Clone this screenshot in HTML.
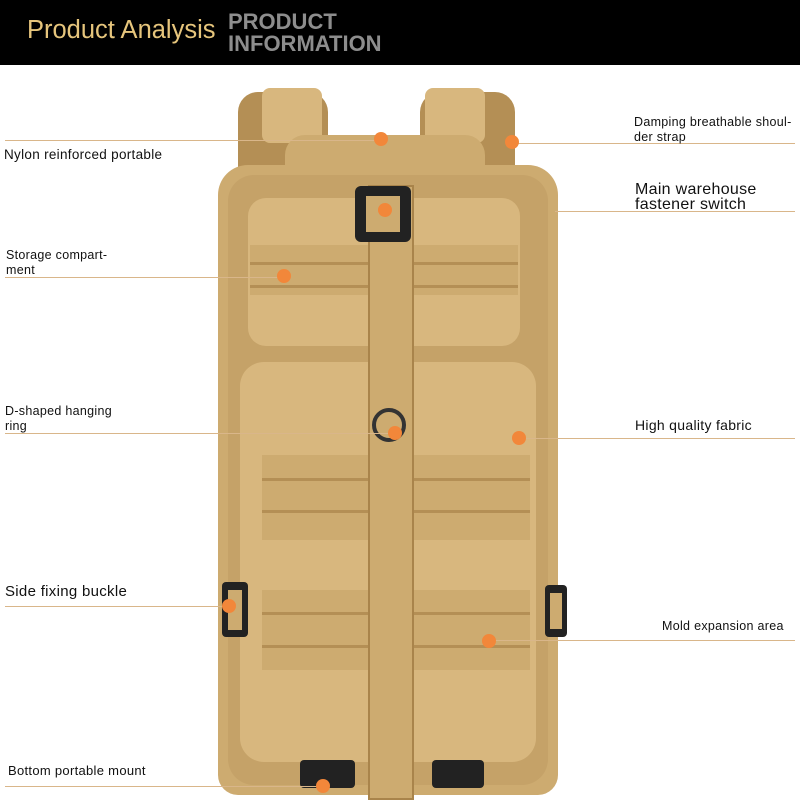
<!DOCTYPE html>
<html><head><meta charset="utf-8"><style>
*{margin:0;padding:0;box-sizing:border-box}
body{width:800px;height:800px;background:#fff;position:relative;overflow:hidden;font-family:"Liberation Sans",sans-serif}
.a{position:absolute}
.hdr{left:0;top:0;width:800px;height:65px;background:#000}
.t{position:absolute;color:#111;font-size:12.5px;line-height:15px;letter-spacing:.3px}
.ln{position:absolute;height:1px;background:#d9b68a}
.dot{position:absolute;width:14px;height:14px;border-radius:50%;background:#f2873a;margin:-7px 0 0 -7px}
.tan{background:#cdab70;position:absolute}
.dk{background:#b48f55;position:absolute}
.lt{background:#d8b77e;position:absolute}
.blk{background:#222;position:absolute}
</style></head><body>
<div class="a hdr"></div>
<div class="a" style="left:27px;top:16px;color:#e6c57c;font-size:25.5px">Product Analysis</div>
<div class="a" style="left:228px;top:11px;color:#8d8d8d;font-size:22px;font-weight:bold;line-height:22px">PRODUCT<br>INFORMATION</div>

<!-- backpack -->
<div class="dk" style="left:238px;top:92px;width:90px;height:90px;border-radius:20px 20px 0 0"></div>
<div class="dk" style="left:420px;top:92px;width:95px;height:90px;border-radius:20px 20px 0 0"></div>
<div class="lt" style="left:262px;top:88px;width:60px;height:55px;border-radius:8px"></div>
<div class="lt" style="left:425px;top:88px;width:60px;height:55px;border-radius:8px"></div>
<div class="tan" style="left:285px;top:135px;width:200px;height:40px;border-radius:20px 20px 4px 4px"></div>
<div class="tan" style="left:218px;top:165px;width:340px;height:630px;border-radius:30px 30px 20px 20px"></div>
<div class="dk" style="left:228px;top:175px;width:320px;height:610px;border-radius:26px;opacity:.3"></div>
<div class="lt" style="left:248px;top:198px;width:272px;height:148px;border-radius:18px"></div>
<div class="tan" style="left:250px;top:245px;width:268px;height:50px"></div>
<div class="dk" style="left:250px;top:262px;width:268px;height:3px"></div>
<div class="dk" style="left:250px;top:285px;width:268px;height:3px"></div>
<div class="lt" style="left:240px;top:362px;width:296px;height:400px;border-radius:24px"></div>
<div class="tan" style="left:262px;top:455px;width:268px;height:85px"></div>
<div class="dk" style="left:262px;top:478px;width:268px;height:3px"></div>
<div class="dk" style="left:262px;top:510px;width:268px;height:3px"></div>
<div class="tan" style="left:262px;top:590px;width:268px;height:80px"></div>
<div class="dk" style="left:262px;top:612px;width:268px;height:3px"></div>
<div class="dk" style="left:262px;top:645px;width:268px;height:3px"></div>
<div class="tan" style="left:368px;top:185px;width:46px;height:615px;border:2px solid #a9844b"></div>
<div class="blk" style="left:355px;top:186px;width:56px;height:56px;border-radius:6px"></div>
<div class="tan" style="left:366px;top:196px;width:34px;height:36px"></div>
<div class="a" style="left:372px;top:408px;width:34px;height:34px;border:4px solid #333;border-radius:50%"></div>
<div class="blk" style="left:222px;top:582px;width:26px;height:55px;border-radius:4px"></div>
<div class="tan" style="left:228px;top:590px;width:14px;height:40px"></div>
<div class="blk" style="left:545px;top:585px;width:22px;height:52px;border-radius:4px"></div>
<div class="tan" style="left:550px;top:593px;width:12px;height:36px"></div>
<div class="blk" style="left:300px;top:760px;width:55px;height:28px;border-radius:4px"></div>
<div class="blk" style="left:432px;top:760px;width:52px;height:28px;border-radius:4px"></div>

<!-- labels -->
<div class="ln" style="left:5px;top:140px;width:375px"></div><div class="dot" style="left:381px;top:139px"></div>
<div class="t" style="left:4px;top:147px;font-size:13.5px">Nylon reinforced portable</div>
<div class="ln" style="left:512px;top:143px;width:283px"></div><div class="dot" style="left:512px;top:142px"></div>
<div class="t" style="left:634px;top:115px">Damping breathable shoul-<br>der strap</div>
<div class="ln" style="left:555px;top:211px;width:240px"></div><div class="dot" style="left:385px;top:210px"></div>
<div class="t" style="left:635px;top:182px;font-size:16px;line-height:15px">Main warehouse<br>fastener switch</div>
<div class="ln" style="left:5px;top:277px;width:280px"></div><div class="dot" style="left:284px;top:276px"></div>
<div class="t" style="left:6px;top:248px">Storage compart-<br>ment</div>
<div class="ln" style="left:5px;top:433px;width:390px"></div><div class="dot" style="left:395px;top:433px"></div>
<div class="t" style="left:5px;top:404px">D-shaped hanging<br>ring</div>
<div class="ln" style="left:520px;top:438px;width:275px"></div><div class="dot" style="left:519px;top:438px"></div>
<div class="t" style="left:635px;top:418px;font-size:14px">High quality fabric</div>
<div class="ln" style="left:5px;top:606px;width:225px"></div><div class="dot" style="left:229px;top:606px"></div>
<div class="t" style="left:5px;top:584px;font-size:15px">Side fixing buckle</div>
<div class="ln" style="left:490px;top:640px;width:305px"></div><div class="dot" style="left:489px;top:641px"></div>
<div class="t" style="left:662px;top:619px">Mold expansion area</div>
<div class="ln" style="left:5px;top:786px;width:320px"></div><div class="dot" style="left:323px;top:786px"></div>
<div class="t" style="left:8px;top:763px;font-size:13px">Bottom portable mount</div>
</body></html>
